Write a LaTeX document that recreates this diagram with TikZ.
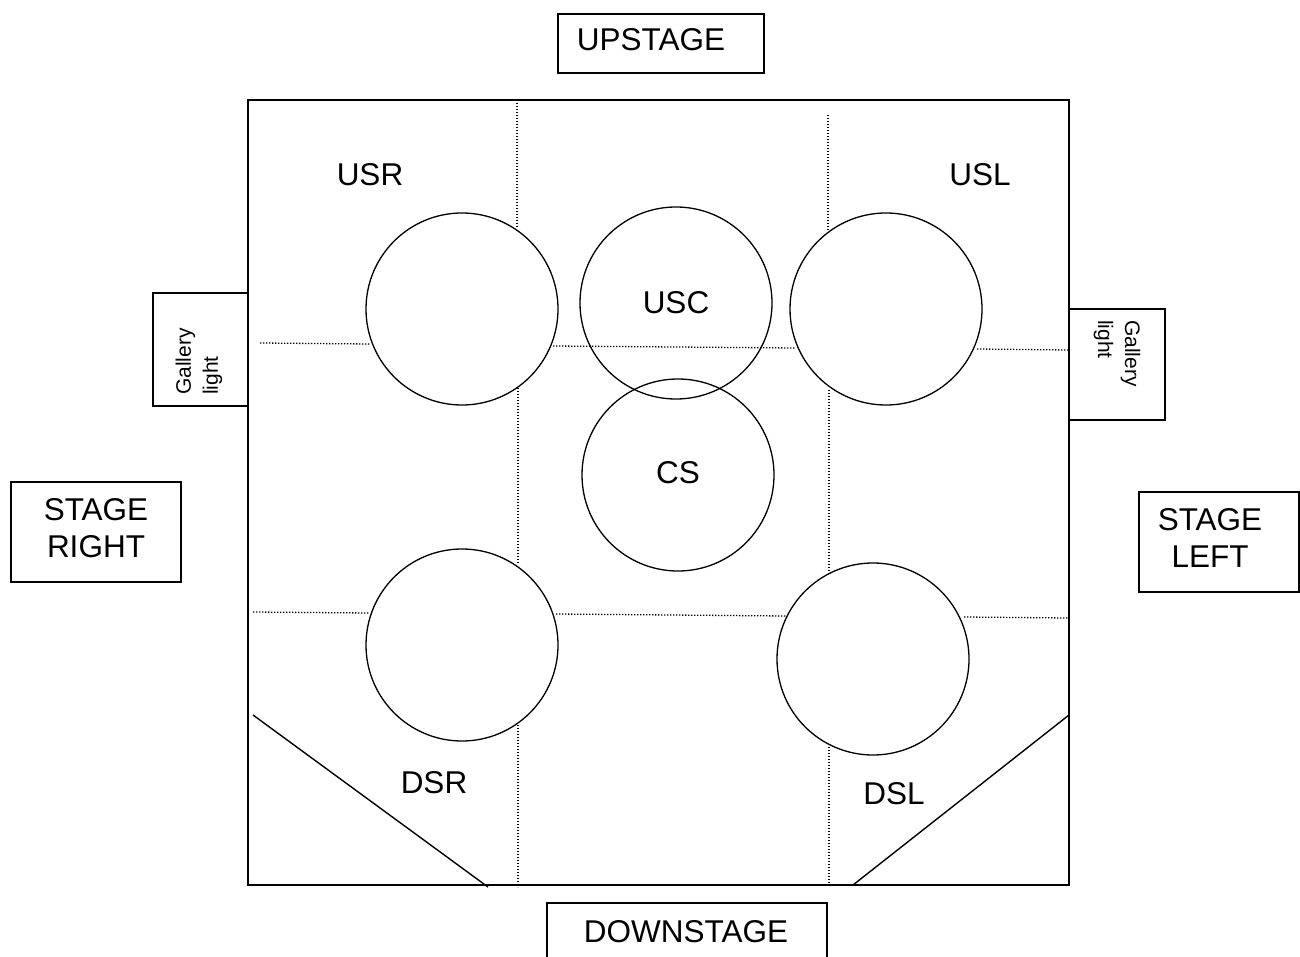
\documentclass[tikz,border=0pt]{standalone}
\usepackage{fontspec}
\setmainfont{Liberation Sans}
\begin{document}
\begin{tikzpicture}[x=1pt,y=-1pt,
  big/.style={font=\fontsize{31.5}{37}\selectfont, inner sep=0pt, align=center},
  small/.style={font=\fontsize{21}{27}\selectfont, inner sep=0pt, align=left},
  spot/.style={circle, draw, line width=1.3pt, minimum size=192pt, inner sep=0pt},
  frame/.style={draw, line width=1.4pt},
  grid/.style={line width=1.3pt, dash pattern=on 1.3pt off 1.7pt}]
\useasboundingbox (0,0) rectangle (1300,957);
\clip (0,0) rectangle (1300,957);
% stage
\draw[frame] (248,100) rectangle (1069,885);
% gallery boxes
\draw[frame] (248,293) -- (153,293) -- (153,406) -- (248,406);
\draw[frame] (1069,309) -- (1165,309) -- (1165,420) -- (1069,420);
\node[small, rotate=90, anchor=west] (gl) at (199,395) {Gallery\\light};
\node[small, rotate=-90, anchor=west] (gr) at (1117,320) {Gallery\\light};
% outside labels
\node[big] (up) at (651,40) {UPSTAGE};
\draw[frame] (558,14) rectangle (764,73);
\node[big] (down) at (686,932) {DOWNSTAGE};
\draw[frame] (547,903) rectangle (827,970);
\node[big] (sr) at (96,528) {STAGE\\RIGHT};
\draw[frame] (11,482) rectangle (181,582);
\node[big] (sl) at (1210,538) {STAGE\\LEFT};
\draw[frame] (1139,492) rectangle (1299,592);
% dotted grid
\draw[grid] (260,343) -- (370,344);
\draw[grid] (553,346) -- (795,348);
\draw[grid] (977,349) -- (1068,350);
\draw[grid] (253,612) -- (369,613);
\draw[grid] (556,614) -- (786,616);
\draw[grid] (964,617) -- (1068,618);
\draw[grid] (517,100) -- (517,228);
\draw[grid] (518,388) -- (518,563);
\draw[grid] (518,725) -- (518,887);
\draw[grid] (828,115) -- (828,231);
\draw[grid] (829,390) -- (829,573);
\draw[grid] (829,747) -- (829,885);
% diagonals
\draw[line width=1.4pt] (253,715) -- (488,887);
\draw[line width=1.4pt] (1069,715) -- (853,885);
% spots
\node[spot] (usr) at (462,309) {};
\node[spot, font=\fontsize{31.5}{37}\selectfont] (usc) at (676,303) {USC};
\node[spot] (usl) at (886,309) {};
\node[spot, font=\fontsize{31.5}{37}\selectfont] (cs) at (678,475) {\raisebox{4pt}{CS}};
\node[spot] (dsr) at (462,645) {};
\node[spot] (dsl) at (873,659) {};
% area labels
\node[big] (lusr) at (370,175) {USR};
\node[big] (lusl) at (980,175) {USL};
\node[big] (ldsr) at (434,783) {DSR};
\node[big] (ldsl) at (894,794) {DSL};
\end{tikzpicture}
\end{document}
